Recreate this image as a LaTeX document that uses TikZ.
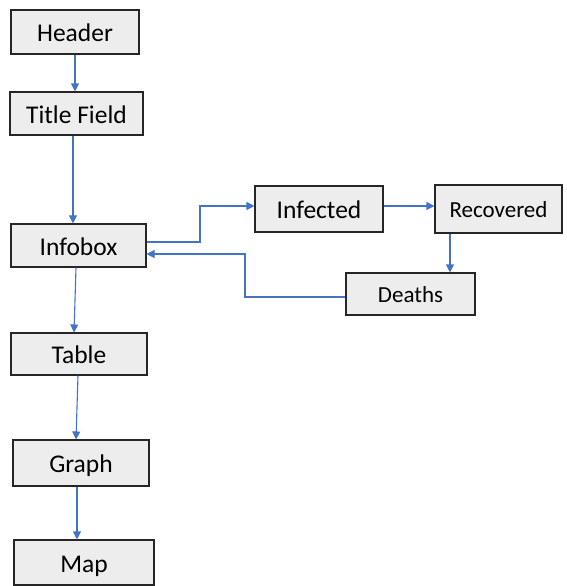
\documentclass[tikz,border=0pt]{standalone}
\usepackage{fontspec}
\setmainfont{Carlito}
\usetikzlibrary{arrows.meta}
\definecolor{arrblue}{HTML}{4472C4}
\definecolor{boxfill}{HTML}{EDEDED}
\begin{document}
\begin{tikzpicture}[x=1pt,y=-1pt,
  box/.style={draw=black!85,fill=boxfill,line width=1.1pt,inner sep=0pt,text height=19pt,text depth=0pt,font=\fontsize{25.5}{27}\selectfont},
  small/.style={font=\fontsize{23}{25}\selectfont,text height=17.5pt},
  conn/.style={draw=arrblue,line width=1.1pt,-{Triangle[length=8pt,width=8pt]}}]
\useasboundingbox (0,0) rectangle (566,586);
\node[box,minimum width=128pt,minimum height=44pt] (header) at (75,32) {Header};
\node[box,minimum width=133pt,minimum height=43pt] (title) at (76.5,113.5) {Title Field};
\node[box,minimum width=135pt,minimum height=43pt] (infobox) at (78.5,245.5) {Infobox};
\node[box,minimum width=128pt,minimum height=46pt] (infected) at (319,209) {Infected};
\node[box,small,minimum width=127pt,minimum height=48pt] (recovered) at (498.5,209) {Recovered};
\node[box,small,minimum width=129pt,minimum height=42pt] (deaths) at (410.5,294) {Deaths};
\node[box,minimum width=136pt,minimum height=42pt] (table) at (79,354) {Table};
\node[box,minimum width=136pt,minimum height=46pt] (graph) at (81,463) {Graph};
\node[box,minimum width=140pt,minimum height=45pt] (map) at (84,562.5) {Map};
\draw[conn] (header.south -| 75,0) -- (title.north -| 75,0);
\draw[conn] (title.south -| 73,0) -- (infobox.north -| 73,0);
\draw[conn] (infobox.south -| 76,0) -- (table.north -| 74,0);
\draw[conn] (table.south -| 78,0) -- (graph.north -| 76,0);
\draw[conn] (graph.south -| 77,0) -- (map.north -| 77,0);
\draw[conn] (infobox.east |- 0,242) -- (200,242) -- (200,206) -- (infected.west |- 0,206);
\draw[conn] (infected.east |- 0,206) -- (recovered.west |- 0,206);
\draw[conn] (recovered.south -| 450,0) -- (deaths.north -| 450,0);
\draw[conn] (deaths.west |- 0,297) -- (245,297) -- (245,254) -- (infobox.east |- 0,254);
\end{tikzpicture}
\end{document}
